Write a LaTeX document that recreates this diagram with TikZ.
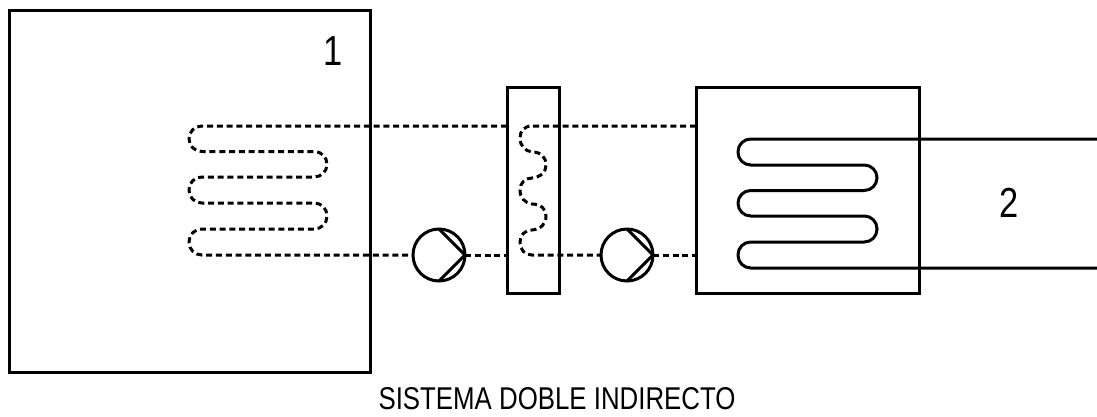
\documentclass[tikz,border=0pt]{standalone}
\usepackage{fontspec}
\newfontfamily\labelfont[FakeStretch=0.82]{Liberation Sans}
\begin{document}
\begin{tikzpicture}
            [
                x=1pt, y=-1pt,
                caja/.style={draw, line width=3pt, inner sep=0pt, outer sep=0pt},
                bomba/.style={circle, draw, line width=3pt, minimum size=52pt, inner sep=0pt, outer sep=0pt},
                circuito/.style={line width=3pt, dash pattern=on 6pt off 3.8pt},
                serpentin/.style={line width=3pt},
                etiqueta/.style={font=\labelfont\fontsize{42}{42}\selectfont, inner sep=0pt},
            ]
            \useasboundingbox (0,0) rectangle (1097,416);
            % recintos
            \node[caja, minimum width=361pt, minimum height=362pt] (recinto) at (189.5,191) {};
            \node[caja, minimum width=52pt, minimum height=206pt] (inter) at (533,190) {};
            \node[caja, minimum width=223pt, minimum height=206pt] (evap) at (807.5,190) {};
            % bombas
            \node[bomba] (bomba1) at (439,255) {};
            \node[bomba] (bomba2) at (627,255) {};
            \draw[serpentin] (bomba1.north) -- (bomba1.east) -- (bomba1.south);
            \draw[serpentin] (bomba2.north) -- (bomba2.east) -- (bomba2.south);
            % puntos de los circuitos
            \coordinate (inter1) at (inter.west |- 0,126);
            \coordinate (inter2) at (inter.west |- bomba1.west);
            \coordinate (evap1) at (evap.west |- 0,126);
            \coordinate (evap2) at (evap.west |- bomba2.east);
            \coordinate (salida1) at (1097,139);
            \coordinate (salida2) at (1097,268);
            % circuito recinto
            \draw[circuito, rounded corners=12.7pt] (inter1) -- (189,126) -- (189,151.5) -- (327,151.5)
                -- (327,177) -- (189,177) -- (189,203) -- (327,203) -- (327,229) -- (189,229)
                -- (189,255) -- (bomba1.west);
            \draw[circuito] (bomba1.east) -- (inter2);
            % circuito intermedio
            \draw[circuito] (evap1) -- (532,126) .. controls (524,126) and (520,131) .. (520,138)
                .. controls (520,146) and (525,151) .. (532,152)
                .. controls (541,152) and (546,157) .. (546,165)
                .. controls (546,172) and (541,177) .. (532,178)
                .. controls (525,178) and (520,183) .. (520,190)
                .. controls (520,198) and (525,203) .. (532,204)
                .. controls (541,204) and (546,209) .. (546,216)
                .. controls (546,224) and (541,229) .. (532,230)
                .. controls (525,230) and (520,235) .. (520,242)
                .. controls (520,250) and (525,255) .. (532,255) -- (bomba2.west);
            \draw[circuito] (bomba2.east) -- (evap2);
            % serpentin exterior
            \draw[serpentin, rounded corners=12.7pt] (salida1) -- (738,139) -- (738,165) -- (877,165)
                -- (877,190.5) -- (738,190.5) -- (738,216) -- (877,216) -- (877,242) -- (738,242)
                -- (738,268) -- (salida2);
            % textos
            \node[etiqueta] (num1) at (333,51) {1};
            \node[etiqueta] (num2) at (1009.5,203) {2};
            \node[font=\labelfont\fontsize{31.5}{32}\selectfont, inner sep=0pt] (titulo) at (557,398.5) {SISTEMA DOBLE INDIRECTO};
        \end{tikzpicture}
\end{document}
